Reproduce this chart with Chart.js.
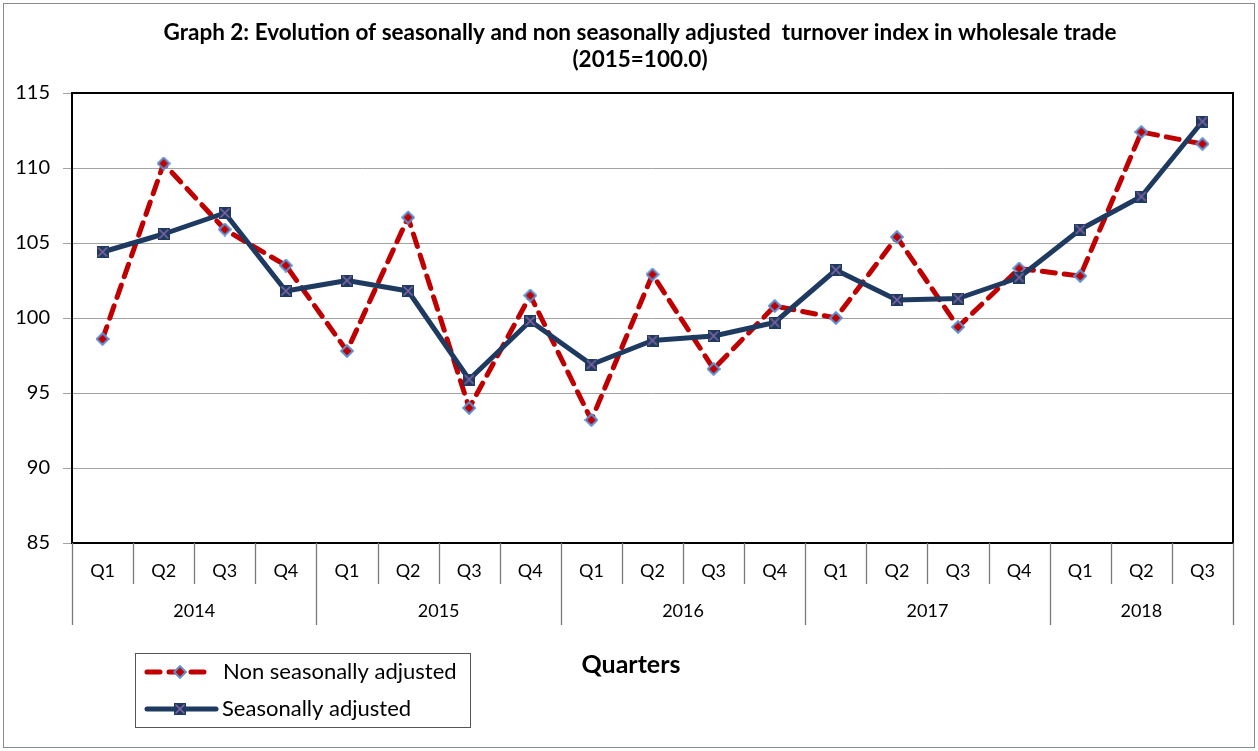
<!DOCTYPE html>
<html>
<head>
<meta charset="utf-8">
<script src="https://cdn.jsdelivr.net/npm/chart.js@4.4.1/dist/chart.umd.min.js"></script>
<style>
html,body{margin:0;padding:0;background:#fff;}
#wrap{width:1258px;height:751px;position:relative;}
canvas{display:block;}
</style>
</head>
<body>
<div id="wrap"><canvas id="c" width="1258" height="751"></canvas></div>
<script>
// ---- data ----
const quarters = ['Q1','Q2','Q3','Q4','Q1','Q2','Q3','Q4','Q1','Q2','Q3','Q4','Q1','Q2','Q3','Q4','Q1','Q2','Q3'];
const categoryYears = ['2014','2014','2014','2014','2015','2015','2015','2015','2016','2016','2016','2016','2017','2017','2017','2017','2018','2018','2018'];
const nonSeasonallyAdjusted = [98.6,110.3,105.9,103.5,97.8,106.7,94.0,101.5,93.2,102.9,96.6,100.8,100.0,105.4,99.4,103.3,102.8,112.4,111.6];
const seasonallyAdjusted = [104.4,105.6,107.0,101.8,102.5,101.8,95.9,99.8,96.9,98.5,98.8,99.7,103.2,101.2,101.3,102.7,105.9,108.1,113.1];
const yMin = 85, yMax = 115, yStep = 5;
const titleLines = ['Graph 2: Evolution of seasonally and non seasonally adjusted  turnover index in wholesale trade','(2015=100.0)'];
const seriesNames = ['Non seasonally adjusted','Seasonally adjusted'];
const axisTitle = 'Quarters';

const FONT = 'Lato, "Open Sans", sans-serif';
const RED = '#C00000', BLUE_EDGE = '#5B8FD0', NAVY = '#1F3A60', PURPLE = '#8064A2';

function diamondMarker(){
  const s = 14, c = document.createElement('canvas'); c.width = s; c.height = s;
  const g = c.getContext('2d');
  g.beginPath(); g.moveTo(s/2,1.2); g.lineTo(s-1.2,s/2); g.lineTo(s/2,s-1.2); g.lineTo(1.2,s/2); g.closePath();
  g.fillStyle = RED; g.fill(); g.lineWidth = 2; g.strokeStyle = BLUE_EDGE; g.stroke();
  return c;
}
function squareMarker(){
  const s = 12, c = document.createElement('canvas'); c.width = s; c.height = s;
  const g = c.getContext('2d');
  g.fillStyle = NAVY; g.fillRect(0,0,s,s);
  g.strokeStyle = PURPLE; g.lineWidth = 1.6;
  g.beginPath(); g.moveTo(1.5,1.5); g.lineTo(s-1.5,s-1.5); g.moveTo(s-1.5,1.5); g.lineTo(1.5,s-1.5); g.stroke();
  return c;
}
const dMark = diamondMarker(), sMark = squareMarker();

const decor = {
  id: 'decor',
  beforeDraw(chart){
    const ctx = chart.ctx; ctx.save(); ctx.fillStyle = '#fff'; ctx.fillRect(0,0,chart.width,chart.height); ctx.restore();
  },
  afterDraw(chart){
    const ctx = chart.ctx, a = chart.chartArea, x = chart.scales.x;
    ctx.save();
    // outer frame
    ctx.strokeStyle = '#8a8a8a'; ctx.lineWidth = 1;
    ctx.strokeRect(3.5, 3.5, chart.width - 7, chart.height - 7);
    // plot frame
    ctx.strokeStyle = '#000'; ctx.lineWidth = 2;
    ctx.strokeRect(a.left, a.top, a.right - a.left, a.bottom - a.top);
    // category separators
    ctx.strokeStyle = '#7a7a7a'; ctx.lineWidth = 1.3;
    const n = quarters.length;
    const bound = i => i === 0 ? a.left : (i === n ? a.right : (x.getPixelForValue(i-1) + x.getPixelForValue(i)) / 2);
    for (let i = 0; i <= n; i++){
      const isYear = i === 0 || i === n || categoryYears[i] !== categoryYears[i-1];
      const bx = Math.round(bound(i)) + 0.5;
      ctx.beginPath(); ctx.moveTo(bx, a.bottom); ctx.lineTo(bx, isYear ? a.bottom + 82 : a.bottom + 41); ctx.stroke();
    }
    // year group labels
    ctx.fillStyle = '#000'; ctx.font = '18px ' + FONT; ctx.textAlign = 'center'; ctx.textBaseline = 'middle';
    let start = 0;
    for (let i = 1; i <= n; i++){
      if (i === n || categoryYears[i] !== categoryYears[start]){
        ctx.fillText(categoryYears[start], (bound(start) + bound(i)) / 2, a.bottom + 68);
        start = i;
      }
    }
    // title
    ctx.font = 'bold 22.5px ' + FONT; ctx.textAlign = 'center';
    ctx.fillText(titleLines[0], 640, 33);
    ctx.fillText(titleLines[1], 640, 60);
    // axis title
    ctx.font = 'bold 25px ' + FONT;
    ctx.fillText(axisTitle, 631, 665);
    // legend
    ctx.strokeStyle = '#555'; ctx.lineWidth = 1;
    ctx.strokeRect(135.5, 653.5, 335, 74);
    ctx.lineCap = 'round';
    ctx.strokeStyle = RED; ctx.lineWidth = 5; ctx.setLineDash([13, 9]);
    ctx.beginPath(); ctx.moveTo(147, 672); ctx.lineTo(207, 672); ctx.stroke();
    ctx.setLineDash([]);
    ctx.drawImage(dMark, 180 - 7, 672 - 7);
    ctx.strokeStyle = NAVY; ctx.lineWidth = 5;
    ctx.beginPath(); ctx.moveTo(147, 709); ctx.lineTo(216, 709); ctx.stroke();
    ctx.drawImage(sMark, 180 - 6, 709 - 6);
    ctx.fillStyle = '#000'; ctx.font = '22px ' + FONT; ctx.textAlign = 'left';
    ctx.fillText(seriesNames[0], 223, 672);
    ctx.fillText(seriesNames[1], 222, 709);
    ctx.restore();
  }
};

new Chart(document.getElementById('c'), {
  type: 'line',
  data: {
    labels: quarters,
    datasets: [
      {
        label: seriesNames[0], data: nonSeasonallyAdjusted, order: 2,
        borderColor: RED, borderWidth: 5, borderDash: [13, 9], borderCapStyle: 'round',
        pointStyle: dMark, pointRadius: 7, pointHoverRadius: 7, tension: 0, fill: false
      },
      {
        label: seriesNames[1], data: seasonallyAdjusted, order: 1,
        borderColor: NAVY, borderWidth: 5, borderJoinStyle: 'round',
        pointStyle: sMark, pointRadius: 6, pointHoverRadius: 6, tension: 0, fill: false
      }
    ]
  },
  options: {
    responsive: false, animation: false, devicePixelRatio: 1,
    layout: { padding: { top: 93, right: 25, left: 0, bottom: 0 } },
    plugins: { legend: { display: false }, title: { display: false }, tooltip: { enabled: false } },
    scales: {
      x: {
        type: 'category', offset: true,
        grid: { display: false, drawTicks: false },
        border: { display: false },
        ticks: { color: '#000', font: { family: FONT, size: 18 }, padding: 17, autoSkip: false, maxRotation: 0 },
        afterFit(s){ s.height = 208; }
      },
      y: {
        min: yMin, max: yMax,
        grid: { color: '#a3a3a3', lineWidth: 1, tickLength: 9 },
        border: { display: false },
        ticks: { stepSize: yStep, color: '#000', font: { family: FONT, size: 20 }, padding: 13 },
        afterFit(s){ s.width = 72; }
      }
    }
  },
  plugins: [decor]
});
</script>
</body>
</html>
